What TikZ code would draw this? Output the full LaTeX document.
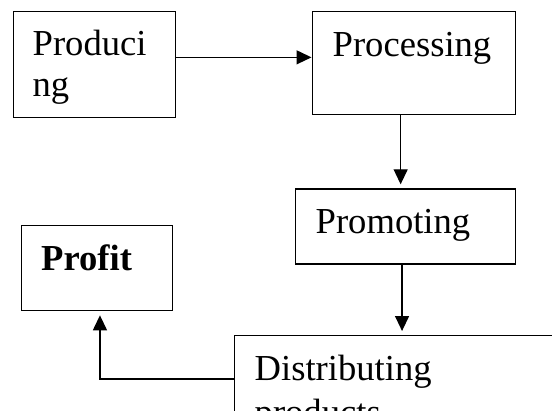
\documentclass[tikz,border=0pt]{standalone}
\usepackage{fontspec}
\setmainfont{Liberation Serif}
\usetikzlibrary{arrows.meta}
\begin{document}
\begin{tikzpicture}[x=1pt,y=-1pt,
  box/.style={draw=black, line width=1.3pt, rectangle, inner sep=0pt, anchor=north west},
  lbl/.style={anchor=base west, inner sep=0pt, font=\fontsize{36.6}{42}\selectfont},
  arr/.style={line width=1.3pt, -{Triangle[length=15pt,width=14pt]}}]
\useasboundingbox (0,0) rectangle (552,410);
\clip (0,0) rectangle (552,410);
\fill[white] (0,0) rectangle (552,410);
% boxes
\node[box, minimum width=162pt, minimum height=106pt] (prod) at (13,11) {};
\node[box, minimum width=203.5pt, minimum height=102.5pt] (proc) at (311.5,11) {};
\node[box, minimum width=220pt, minimum height=75pt] (promo) at (295,188.3) {};
\node[box, minimum width=151pt, minimum height=85pt] (profit) at (21,225) {};
\node[box, minimum width=386pt, minimum height=86.6pt] (dist) at (234,335) {};
% texts
\node[lbl] (t1) at (32.5,55) {Produci};
\node[lbl] (t2) at (32.5,96) {ng};
\node[lbl] (t3) at (332.5,56) {Processing};
\node[lbl] (t4) at (315.5,233) {Promoting};
\node[lbl, font=\fontsize{36.6}{42}\selectfont\bfseries] (t5) at (41,270.7) {Profit};
\node[lbl] (t6) at (254.5,380) {Distributing};
\node[lbl] (t7) at (254.5,424) {products};
% connectors
\coordinate (a1) at ([yshift=7.3pt]prod.east);
\draw[arr] (a1) -- (a1 -| proc.west);
\coordinate (a2) at ([xshift=-13.25pt]proc.south);
\draw[arr, shorten >=4pt] (a2) -- (a2 |- promo.north);
\coordinate (a3) at ([xshift=-3.6pt]promo.south);
\draw[arr, shorten >=4pt] (a3) -- (a3 |- dist.north);
\draw[arr, shorten >=4pt] (dist.west) -| ([xshift=2.8pt]profit.south);
\end{tikzpicture}
\end{document}
